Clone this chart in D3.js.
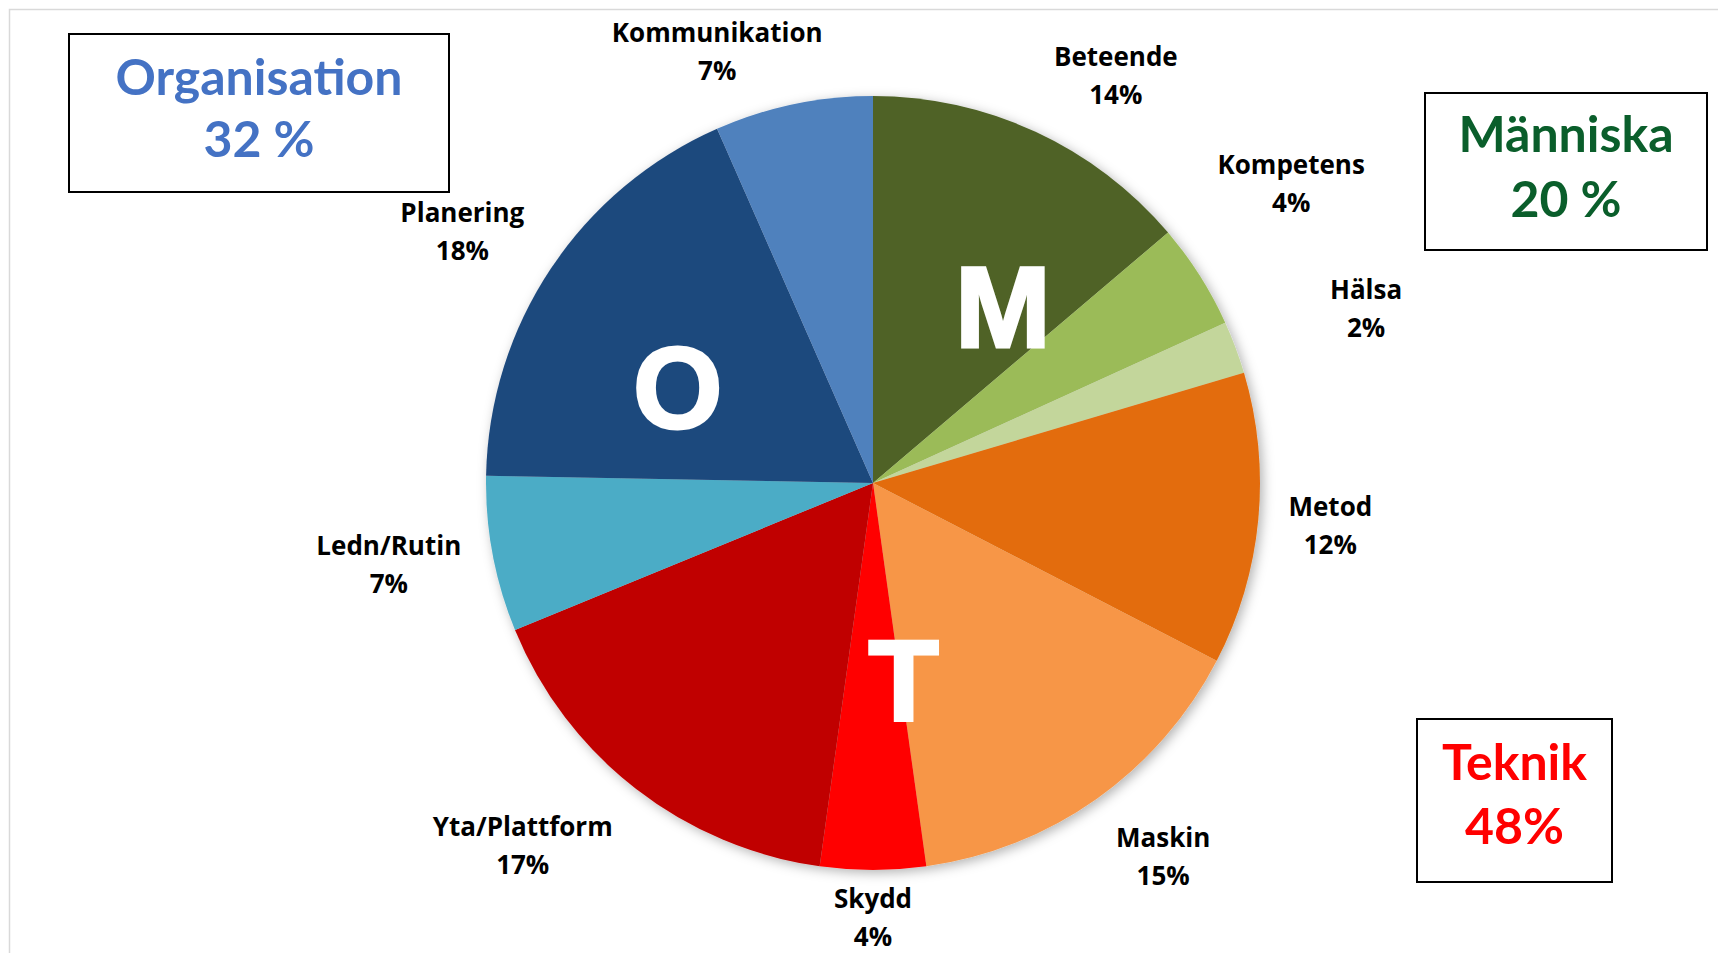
<!DOCTYPE html>
<html>
<head>
<meta charset="utf-8">
<script src="https://cdn.jsdelivr.net/npm/d3@7"></script>
<style>
  html, body { margin: 0; padding: 0; background: #fff; }
  svg { display: block; }
</style>
</head>
<body>
<svg width="1718" height="953"></svg>
<script>
// slices, clockwise from 12 o'clock
const categories = ["Beteende", "Kompetens", "Hälsa", "Metod", "Maskin", "Skydd",
                    "Yta/Plattform", "Ledn/Rutin", "Planering", "Kommunikation"]
const shares = [13.8, 4.4, 2.2, 12.2, 15.2, 4.4, 16.6, 6.5, 18.1, 6.6]
const colours = ["#4F6228", "#9BBB59", "#C3D69B", "#E36C09", "#F79646",
                 "#FF0000", "#C00000", "#4BACC6", "#1F497D", "#4F81BD"]

// the three summary boxes
const groupNames = ["Organisation", "Människa", "Teknik"]
const groupTotals = ["32 %", "20 %", "48%"]
const groupColours = ["#4472C4", "#0A5E2B", "#FF0000"]

// label nudges (degrees off the slice middle, distance as share of radius)
const labelShift = [6, -3.2, 1.1, 0, -2.5, 0, 6.2, 1, -2.2, -8]
const labelDist = [1.224, 1.329, 1.351, 1.187, 1.224, 1.125, 1.303, 1.269, 1.244, 1.184]

const svg = d3.select("svg"),
    cx = 873, cy = 483, radius = 387

// chart area frame
svg.append("rect")
    .attr("x", 9.5).attr("y", 9.5)
    .attr("width", 1800).attr("height", 1000)
    .attr("fill", "none")
    .attr("stroke", "#d9d9d9")
    .attr("stroke-width", 1.5)

const defs = svg.append("defs")
defs.append("filter").attr("id", "shadow")
    .attr("x", "-10%").attr("y", "-10%").attr("width", "120%").attr("height", "120%")
    .append("feDropShadow")
    .attr("dx", 3).attr("dy", 3)
    .attr("stdDeviation", 6)
    .attr("flood-color", "#000")
    .attr("flood-opacity", 0.3)

const g = svg.append("g").attr("transform", "translate(" + cx + "," + cy + ")")

const pie = d3.pie().sort(null).value(d => d)
const arc = d3.arc().innerRadius(0).outerRadius(radius)
const arcs = pie(shares)

g.append("g")
    .attr("filter", "url(#shadow)")
    .selectAll("path")
    .data(arcs)
    .enter()
    .append("path")
    .attr("fill", (d, i) => colours[i])
    .attr("d", arc)

// data labels
const total = d3.sum(shares)
const labels = g.selectAll(".lbl")
    .data(arcs)
    .enter()
    .append("text")
    .attr("class", "lbl")
    .attr("text-anchor", "middle")
    .attr("font-family", "'Open Sans', Lato, sans-serif")
    .attr("font-weight", "bold")
    .attr("font-size", 26)
    .attr("fill", "#000")
    .attr("transform", (d, i) => {
        const a = (d.startAngle + d.endAngle) / 2 + labelShift[i] * Math.PI / 180,
            r = radius * labelDist[i]
        return "translate(" + (Math.sin(a) * r) + "," + (-Math.cos(a) * r) + ")"
    })
labels.append("tspan").attr("x", 0).attr("y", -10).text((d, i) => categories[i])
labels.append("tspan").attr("x", 0).attr("y", 28)
    .text(d => Math.round(d.value / total * 100) + "%")

// big group letters inside the pie
const letters = [["O", 297, 0.566], ["M", 35.8, 0.574], ["T", 171, 0.505]]
g.selectAll(".big")
    .data(letters)
    .enter()
    .append("text")
    .attr("class", "big")
    .attr("text-anchor", "middle")
    .attr("dominant-baseline", "central")
    .attr("font-family", "'Liberation Sans', Arial, sans-serif")
    .attr("font-weight", "bold")
    .attr("font-size", 115)
    .attr("fill", "#fff")
    .attr("stroke", "#fff")
    .attr("stroke-width", 3)
    .attr("stroke-linejoin", "miter")
    .attr("x", d => Math.sin(d[1] * Math.PI / 180) * radius * d[2])
    .attr("y", d => -Math.cos(d[1] * Math.PI / 180) * radius * d[2] + 4)
    .text(d => d[0])

// summary boxes
const boxes = [
    {x: 69, y: 34, w: 380, h: 158, t1: 95, t2: 157},
    {x: 1425, y: 93, w: 282, h: 157, t1: 152, t2: 217},
    {x: 1417, y: 719, w: 195, h: 163, t1: 780, t2: 844}
]
boxes.forEach((b, i) => {
    svg.append("rect")
        .attr("x", b.x).attr("y", b.y)
        .attr("width", b.w).attr("height", b.h)
        .attr("fill", "#fff")
        .attr("stroke", "#000")
        .attr("stroke-width", 2)
    const t = svg.append("text")
        .attr("text-anchor", "middle")
        .attr("font-family", "Lato, 'Open Sans', sans-serif")
        .attr("font-weight", "bold")
        .attr("font-size", 50)
        .attr("fill", groupColours[i])
    t.append("tspan").attr("x", b.x + b.w / 2).attr("y", b.t1).text(groupNames[i])
    t.append("tspan").attr("x", b.x + b.w / 2).attr("y", b.t2).text(groupTotals[i])
})
</script>
</body>
</html>
